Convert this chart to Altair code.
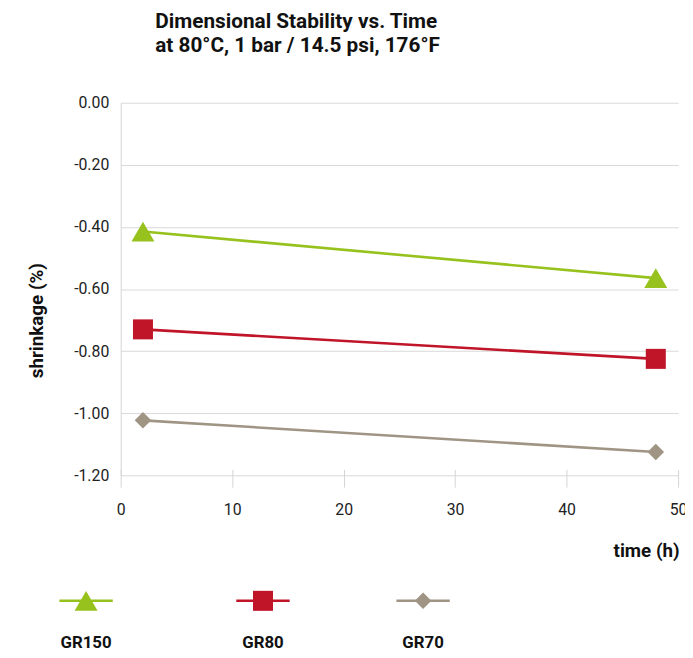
import altair as alt
import pandas as pd

# ---- data ----
series = ["GR150", "GR80", "GR70"]
hours = [2, 48]
gr150 = [-0.415, -0.565]
gr80 = [-0.73, -0.825]
gr70 = [-1.023, -1.125]
y_ticks = [-1.2, -1.0, -0.8, -0.6, -0.4, -0.2, 0.0]
x_ticks = [0, 10, 20, 30, 40, 50]
title_lines = ["Dimensional Stability vs. Time", "at 80°C, 1 bar / 14.5 psi, 176°F"]

# ---- styles ----
colors = ["#97c21e", "#c01528", "#a09584"]
shapes = ["triangle-up", "square", "diamond"]
sizes = [540, 280, 480]
FONT = "Roboto"

rows = []
for s, vals in zip(series, [gr150, gr80, gr70]):
    for h, v in zip(hours, vals):
        rows.append({"series": s, "time": h, "shrinkage": v})
df = pd.DataFrame(rows)

# ---- layout ----
PAD_L, PAD_T = 114, 92
W, H = 564, 377
leg_centers = [-35, 144, 306]
leg_half = 27
leg = pd.DataFrame({"series": series, "cx": leg_centers})
leg["x0"] = leg["cx"] - leg_half
leg["x1"] = leg["cx"] + leg_half

color = alt.Color("series:N", scale=alt.Scale(domain=series, range=colors), legend=None)
shape = alt.Shape("series:N", scale=alt.Scale(domain=series, range=shapes), legend=None)
size = alt.Size("series:N", scale=alt.Scale(domain=series, range=sizes), legend=None)

x = alt.X(
    "time:Q",
    scale=alt.Scale(domain=[0, 50], nice=False),
    axis=alt.Axis(
        values=x_ticks, grid=False, domain=False, ticks=True, tickSize=18,
        tickColor="#d4d4d4", offset=-6, labelPadding=15, labelFontSize=16,
        labelColor="#222", labelFont=FONT, title="time (h)", titleFont=FONT,
        titleFontSize=19, titleFontWeight="bold", titleColor="#111",
        titleAnchor="end", titleAlign="right", titleBaseline="middle",
        titleX=W + 1, titleY=82, labelOverlap=False, labelFlush=False,
    ),
)
y = alt.Y(
    "shrinkage:Q",
    scale=alt.Scale(domain=[-1.2, 0], nice=False, zero=False),
    axis=alt.Axis(
        values=y_ticks,
        labelExpr="(datum.value < -0.001 ? '-' : '') + format(abs(datum.value), '.2f')",
        grid=True, gridColor="#d9d9d9", domain=True, domainColor="#d4d4d4",
        ticks=False, labelPadding=12,
        labelFontSize=16, labelColor="#222", labelFont=FONT,
        title="shrinkage (%)", titleFont=FONT, titleFontSize=19,
        titleFontWeight="bold", titleColor="#111", titleX=-85, titleY=220,
        titleAlign="center", titleBaseline="middle", titleAngle=-90,
    ),
)

lines = alt.Chart(df).mark_line(strokeWidth=2.6).encode(x=x, y=y, color=color, detail="series:N")
points = alt.Chart(df).mark_point(filled=True, opacity=1).encode(x=x, y=y, color=color, shape=shape, size=size)

lx0 = alt.X("x0:Q", scale=None, axis=None)
lcx = alt.X("cx:Q", scale=None, axis=None)
leg_rule = alt.Chart(leg).mark_rule(strokeWidth=2.6).encode(
    x=lx0, x2="x1:Q", y=alt.value(504), color=color
)
leg_pt = alt.Chart(leg).mark_point(filled=True, opacity=1).encode(
    x=lcx, y=alt.value(504), color=color, shape=shape, size=size
)
leg_txt = alt.Chart(leg).mark_text(
    font=FONT, fontSize=17, fontWeight="bold", baseline="middle", align="center", color="#111"
).encode(x=lcx, y=alt.value(547), text="series:N")

chart = alt.layer(lines, points, leg_rule, leg_pt, leg_txt).properties(
    width=W, height=H,
    autosize=alt.AutoSizeParams(type="none"),
    padding={"left": PAD_L, "top": PAD_T, "right": 7, "bottom": 180},
    title=alt.Title(
        title_lines, anchor="start", frame="group", dx=35, offset=39, fontSize=21,
        font=FONT, fontWeight="bold", lineHeight=25, color="#111",
    ),
).configure_view(stroke=None)

chart.save("out.html", embed_options={"renderer": "svg", "actions": False})
